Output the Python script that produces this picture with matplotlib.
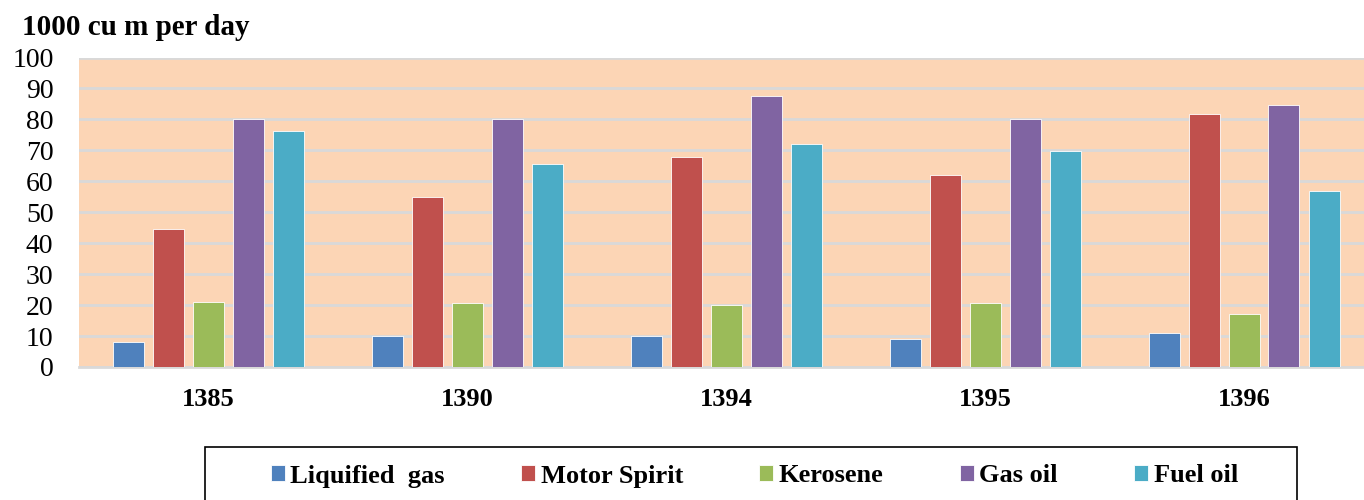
import matplotlib
matplotlib.use("Agg")
from matplotlib import pyplot as plt
from matplotlib.patches import Rectangle
import numpy as np

years = ["1385", "1390", "1394", "1395", "1396"]
series = ["Liquified  gas", "Motor Spirit", "Kerosene", "Gas oil", "Fuel oil"]
liquified_gas = [8.1, 10.0, 10.0, 9.0, 10.9]
motor_spirit = [44.6, 54.9, 67.9, 62.0, 81.7]
kerosene = [21.0, 20.7, 20.0, 20.7, 17.1]
gas_oil = [80.1, 80.1, 87.6, 80.0, 84.7]
fuel_oil = [76.2, 65.6, 72.0, 69.8, 56.8]
colores = ["#4F81BD", "#C0504D", "#9BBB59", "#8064A2", "#4BACC6"]

plt.rcParams['font.family'] = ['Liberation Serif', 'DejaVu Serif']

fig = plt.figure(figsize=(13.64, 5), dpi=100)
ax = fig.add_axes([78.5/1364, 1-367/500, 1-78.5/1364, (367-57.5)/500])
ax.set_facecolor("#FCD5B5")

x = np.arange(len(years))
paso = 40/259
ancho = 31/259
datos = [liquified_gas, motor_spirit, kerosene, gas_oil, fuel_oil]
for i, (nombre, valores) in enumerate(zip(series, datos)):
    ax.bar(x + (i-2)*paso, valores, ancho, color=colores[i], label=nombre,
           edgecolor="#ffffff", linewidth=0.6, zorder=3)

ax.set_ylim(0, 100)
ax.set_xlim(-0.5, (1364-78.5)/259 - 0.5)
ax.set_yticks(range(0, 101, 10))
ax.set_xticks(x)
ax.set_xticklabels(years, fontsize=19, fontweight="bold")
ax.tick_params(axis="y", length=0, pad=18, labelsize=20)
ax.tick_params(axis="x", length=0, pad=15)
ax.yaxis.grid(True, color="#D9D9D9", linewidth=2, zorder=0)
ax.set_axisbelow(True)
for s in ["left", "right", "top"]:
    ax.spines[s].set_visible(False)
ax.spines["bottom"].set_color("#D9D9D9")
ax.spines["bottom"].set_linewidth(2)

fig.text(22/1364, 1-35/500, "1000 cu m per day", fontsize=21, fontweight="bold", va="baseline")

# caja de la leyenda
caja = Rectangle((204.7/1364, 1-510/500), (1296.7-204.7)/1364, (510-446.7)/500,
                 transform=fig.transFigure, fill=False, edgecolor="black", linewidth=1.2)
fig.patches.append(caja)

leg = fig.legend(loc="center left", bbox_to_anchor=(271/1364, 1-476/500),
                 ncol=5, frameon=False, borderpad=0, borderaxespad=0,
                 prop={"size": 19, "weight": "bold"}, handlelength=0.53, handleheight=0.53,
                 handletextpad=0.2, columnspacing=2.9)

plt.savefig("out.png", dpi=100)
